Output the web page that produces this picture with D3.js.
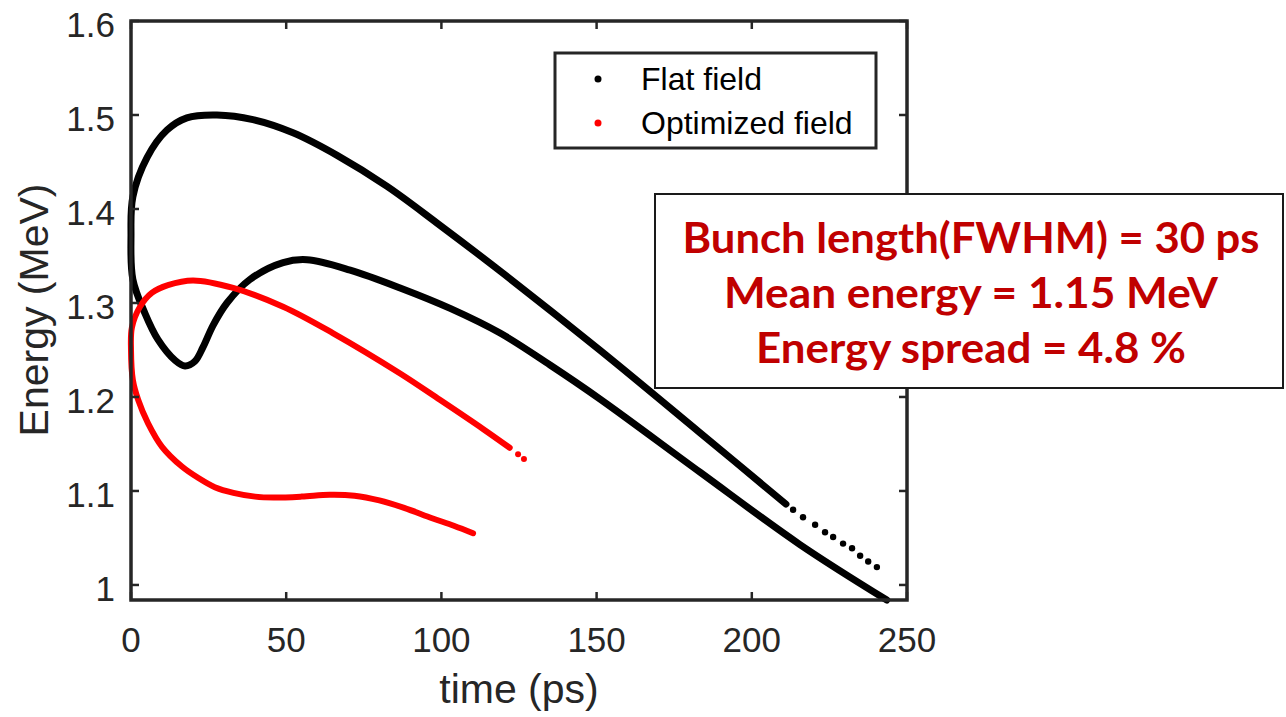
<!DOCTYPE html>
<html>
<head>
<meta charset="utf-8">
<script src="https://cdn.jsdelivr.net/npm/d3@7"></script>
<style>
  html, body { margin: 0; padding: 0; background: #ffffff; }
  svg { display: block; }
</style>
</head>
<body>
<svg id="chart" width="1286" height="717"></svg>
<script>
// ---- data: longitudinal phase space (time in ps, energy in MeV) ----
// Flat field bunch: branch through the 1.5 MeV crest, then the sparse tail
const flatUpper = [
  [0, 1.372], [0.6, 1.413], [5.2, 1.455], [11.6, 1.484], [18, 1.497],
  [27.7, 1.500], [39.3, 1.495], [52.2, 1.481], [66.4, 1.457], [82.5, 1.424],
  [98.6, 1.385], [118.9, 1.334], [151, 1.250], [183.3, 1.162], [211, 1.086]
];
const flatUpperTail = [
  [213.3, 1.080], [216.5, 1.072], [220.4, 1.064], [223.6, 1.056],
  [226.2, 1.051], [229.4, 1.044], [232.3, 1.039], [234.9, 1.031],
  [237.5, 1.025], [240.3, 1.019]
];
// Flat field bunch: branch through the 1.23 MeV dip
const flatLower = [
  [0, 1.372], [0.6, 1.325], [4.5, 1.289], [8.7, 1.261], [14.2, 1.239],
  [17.4, 1.233], [20.6, 1.238], [23.2, 1.253], [26.4, 1.276], [30.9, 1.300],
  [38.3, 1.325], [49, 1.343], [56.7, 1.346], [70.6, 1.335], [86.7, 1.316],
  [103, 1.294], [118.9, 1.268], [135, 1.234], [151, 1.198], [183.3, 1.120],
  [215.5, 1.043], [243.5, 0.984]
];
// Optimized field bunch
const optUpper = [
  [0, 1.250], [0.3, 1.274], [2.9, 1.296], [6.8, 1.311], [11.9, 1.319],
  [20, 1.324], [32.9, 1.316], [49, 1.296], [65, 1.268], [86.7, 1.225],
  [99.5, 1.197], [113.4, 1.166], [122, 1.146]
];
const optUpperTail = [[124.7, 1.139], [126.6, 1.134]];
const optLower = [
  [0, 1.250], [0.6, 1.218], [2.3, 1.197], [5.5, 1.172], [10, 1.147],
  [16.4, 1.126], [21.6, 1.114], [27, 1.104], [33, 1.098], [40, 1.094],
  [46, 1.093], [55, 1.094], [64, 1.096], [72, 1.095], [80, 1.090],
  [88, 1.082], [97, 1.071], [104, 1.063], [110.2, 1.055]
];

const xTicks = [0, 50, 100, 150, 200, 250];
const yTicks = [1, 1.1, 1.2, 1.3, 1.4, 1.5, 1.6];
const legendLabels = ["Flat field", "Optimized field"];
const seriesColors = ["#000000", "#ff0000"];
const noteLines = [
  "Bunch length(FWHM) = 30 ps",
  "Mean energy = 1.15 MeV",
  "Energy spread = 4.8 %"
];

// ---- layout ----
const svg = d3.select("#chart");
const box = { left: 131, right: 907, top: 21, bottom: 600 };
const axisColor = "#262626";
const axisFont = "'Liberation Sans', Arial, sans-serif";

const x = d3.scaleLinear().domain([0, 250]).range([box.left, box.right]);
const y = d3.scaleLinear().domain([0.984, 1.6]).range([box.bottom, box.top]);

// ---- curves ----
const line = d3.line()
  .x(d => x(d[0]))
  .y(d => y(d[1]))
  .curve(d3.curveCatmullRom.alpha(0.5));

// join both branches at the leftmost point so the loop turns smoothly
function loop(lower, upper) {
  return lower.slice().reverse().concat(upper.slice(1));
}

const plot = svg.append("g");

plot.append("path")
  .attr("d", line(loop(flatLower, flatUpper)))
  .attr("fill", "none")
  .attr("stroke", seriesColors[0])
  .attr("stroke-width", 7)
  .attr("stroke-linecap", "round")
  .attr("stroke-linejoin", "round");

plot.selectAll("circle.flat-tail")
  .data(flatUpperTail)
  .join("circle")
  .attr("class", "flat-tail")
  .attr("cx", d => x(d[0]))
  .attr("cy", d => y(d[1]))
  .attr("r", 3.2)
  .attr("fill", seriesColors[0]);

plot.append("path")
  .attr("d", line(loop(optLower, optUpper)))
  .attr("fill", "none")
  .attr("stroke", seriesColors[1])
  .attr("stroke-width", 6)
  .attr("stroke-linecap", "round")
  .attr("stroke-linejoin", "round");

plot.selectAll("circle.opt-tail")
  .data(optUpperTail)
  .join("circle")
  .attr("class", "opt-tail")
  .attr("cx", d => x(d[0]))
  .attr("cy", d => y(d[1]))
  .attr("r", 3)
  .attr("fill", seriesColors[1]);

// ---- axes frame with inward ticks on all four sides ----
const frame = svg.append("g");
const tickLen = 8;

xTicks.forEach(t => {
  frame.append("line")
    .attr("x1", x(t)).attr("x2", x(t))
    .attr("y1", box.bottom).attr("y2", box.bottom - tickLen)
    .attr("stroke", axisColor).attr("stroke-width", 2.5);
  frame.append("line")
    .attr("x1", x(t)).attr("x2", x(t))
    .attr("y1", box.top).attr("y2", box.top + tickLen)
    .attr("stroke", axisColor).attr("stroke-width", 2.5);
});
yTicks.forEach(v => {
  frame.append("line")
    .attr("x1", box.left).attr("x2", box.left + tickLen)
    .attr("y1", y(v)).attr("y2", y(v))
    .attr("stroke", axisColor).attr("stroke-width", 2.5);
  frame.append("line")
    .attr("x1", box.right).attr("x2", box.right - tickLen)
    .attr("y1", y(v)).attr("y2", y(v))
    .attr("stroke", axisColor).attr("stroke-width", 2.5);
});

frame.append("rect")
  .attr("x", box.left).attr("y", box.top)
  .attr("width", box.right - box.left)
  .attr("height", box.bottom - box.top)
  .attr("fill", "none")
  .attr("stroke", axisColor)
  .attr("stroke-width", 3.5);

// tick labels
svg.append("g").selectAll("text")
  .data(xTicks)
  .join("text")
  .attr("x", d => x(d))
  .attr("y", 652)
  .attr("text-anchor", "middle")
  .attr("font-family", axisFont)
  .attr("font-size", 35)
  .attr("fill", axisColor)
  .text(d => d3.format("d")(d));

svg.append("g").selectAll("text")
  .data(yTicks)
  .join("text")
  .attr("x", 115)
  .attr("y", d => y(d) + 16)
  .attr("text-anchor", "end")
  .attr("font-family", axisFont)
  .attr("font-size", 35)
  .attr("fill", axisColor)
  .text(d => d3.format("~g")(d));

// axis titles
svg.append("text")
  .attr("x", 519)
  .attr("y", 703)
  .attr("text-anchor", "middle")
  .attr("font-family", axisFont)
  .attr("font-size", 41)
  .attr("fill", axisColor)
  .text("time (ps)");

svg.append("text")
  .attr("transform", "translate(48,310) rotate(-90)")
  .attr("text-anchor", "middle")
  .attr("font-family", axisFont)
  .attr("font-size", 41)
  .attr("fill", axisColor)
  .text("Energy (MeV)");

// ---- legend ----
const legend = svg.append("g");
legend.append("rect")
  .attr("x", 555).attr("y", 53)
  .attr("width", 321).attr("height", 95)
  .attr("fill", "#ffffff")
  .attr("stroke", axisColor)
  .attr("stroke-width", 3);

legendLabels.forEach((label, i) => {
  const cy = 79 + i * 44;
  legend.append("circle")
    .attr("cx", 598).attr("cy", cy)
    .attr("r", 3.5)
    .attr("fill", seriesColors[i]);
  legend.append("text")
    .attr("x", 641).attr("y", cy + 11)
    .attr("font-family", axisFont)
    .attr("font-size", 32)
    .attr("fill", "#000000")
    .text(label);
});

// ---- bunch parameter note ----
const note = svg.append("g");
note.append("rect")
  .attr("x", 655).attr("y", 194)
  .attr("width", 628).attr("height", 194)
  .attr("fill", "#ffffff")
  .attr("stroke", "#1a1a1a")
  .attr("stroke-width", 2);

const noteWidths = [577, 494, 430];
noteLines.forEach((txt, i) => {
  note.append("text")
    .attr("x", 971)
    .attr("y", 253 + i * 55)
    .attr("text-anchor", "middle")
    .attr("font-family", "Lato, 'Open Sans', sans-serif")
    .attr("font-weight", "bold")
    .attr("font-size", 42)
    .attr("fill", "#c00000")
    .attr("textLength", noteWidths[i])
    .attr("lengthAdjust", "spacingAndGlyphs")
    .text(txt);
});
</script>
</body>
</html>
